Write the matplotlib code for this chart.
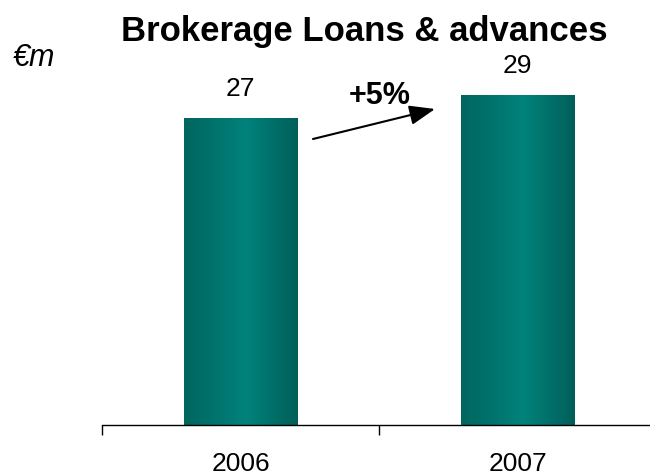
import numpy as np
import matplotlib
matplotlib.use("Agg")
import matplotlib.pyplot as plt
from matplotlib.colors import LinearSegmentedColormap

years = ["2006", "2007"]
values = [27, 29]
growth_label = "+5%"
title = "Brokerage Loans & advances"
unit_label = "€m"

plt.rcParams['font.family'] = ['Liberation Sans', 'DejaVu Sans']

W, H = 650, 477
fig = plt.figure(figsize=(W / 100, H / 100), dpi=100)

def fx(px):
    return px / W

def fy(py):
    return 1 - py / H

# axes spans from the first category boundary to just past the right edge
ax_left, ax_right = 102, 656
ax_bottom, ax_top = 426, 60
ax = fig.add_axes([fx(ax_left), fy(ax_bottom), fx(ax_right - ax_left),
                   (ax_bottom - ax_top) / H])

x = np.arange(len(years))
bar_w = 0.41

# horizontal teal gradient: darker at edges, lighter a bit right of centre
teal = LinearSegmentedColormap.from_list(
    "teal", [(0.0, "#00665f"), (0.55, "#00827b"), (1.0, "#005f59")])
grad = np.linspace(0, 1, 256).reshape(1, -1)

bars = ax.bar(x, values, width=bar_w, color="none", edgecolor="none")
for b in bars:
    x0, y0 = b.get_x(), b.get_y()
    ax.imshow(grad, cmap=teal, aspect="auto", interpolation="bilinear",
              extent=[x0, x0 + b.get_width(), y0, y0 + b.get_height()],
              zorder=2)
ax.set_xlim(-0.5, len(years) - 0.5)
ax.set_ylim(0, 32.2)

for xi, v in zip(x, values):
    ax.annotate(f"{v}", (xi, v), xytext=(0, 13), textcoords="offset points",
                ha="center", va="bottom", fontsize=19)

for s in ["top", "right", "left"]:
    ax.spines[s].set_visible(False)
ax.spines["bottom"].set_linewidth(1.0)
ax.spines["bottom"].set_color("#000000")
ax.set_yticks([])
ax.set_xticks(np.arange(-0.5, len(years) + 0.5, 1.0))
ax.set_xticklabels([])
ax.tick_params(axis="x", direction="out", length=7, width=1.0)
ax.set_xticks(x, minor=True)
ax.set_xticklabels(years, minor=True, fontsize=19)
ax.tick_params(axis="x", which="minor", length=0, pad=19)

fig.text(fx(364), fy(32), title, ha="center", va="center",
         fontsize=25, fontweight="bold")
fig.text(fx(13), fy(58), unit_label, ha="left", va="center",
         fontsize=22, style="italic")

fig.text(fx(380), fy(96), growth_label, ha="center", va="center",
         fontsize=22, fontweight="bold")
ax.annotate("", xy=(fx(435), fy(110)), xycoords="figure fraction",
            xytext=(fx(313), fy(140)), textcoords="figure fraction",
            arrowprops=dict(arrowstyle="-|>,head_length=1.3,head_width=0.5",
                            mutation_scale=12, color="black", lw=1.5,
                            shrinkA=0, shrinkB=0))

fig.savefig("out.png", dpi=100)
